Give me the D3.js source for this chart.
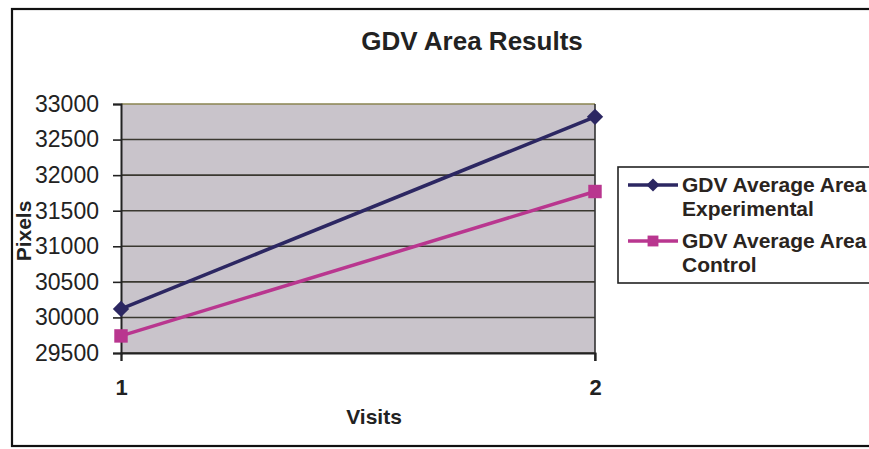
<!DOCTYPE html>
<html>
<head>
<meta charset="utf-8">
<script src="https://cdn.jsdelivr.net/npm/d3@7"></script>
<style>
  html, body { margin: 0; padding: 0; background: #fff; }
  svg { display: block; font-family: "Liberation Sans", Arial, sans-serif; }
</style>
</head>
<body>
<svg id="chart" width="869" height="449"></svg>
<script>
// Visit numbers on the x axis
const visits = [1, 2];
// Average GDV area (pixels) per visit
const experimental = [30120, 32820];
const control = [29740, 31770];
// Y axis tick values
const yTicks = [29500, 30000, 30500, 31000, 31500, 32000, 32500, 33000];
const seriesNames = ["GDV Average Area Experimental", "GDV Average Area Control"];
const legendLines = [["GDV Average Area", "Experimental"], ["GDV Average Area", "Control"]];

const svg = d3.select("#chart");
const W = 869, H = 449;
const plot = { left: 121, right: 595, top: 104, bottom: 353 };

// outer chart frame
svg.append("rect")
  .attr("x", 12).attr("y", 9).attr("width", W + 20).attr("height", 437)
  .attr("fill", "#fff").attr("stroke", "#111").attr("stroke-width", 2.2);

const x = d3.scaleLinear().domain([1, 2]).range([plot.left, plot.right]);
const y = d3.scaleLinear().domain([29500, 33000]).range([plot.bottom, plot.top]);

// plot background
svg.append("rect")
  .attr("x", plot.left).attr("y", plot.top)
  .attr("width", plot.right - plot.left).attr("height", plot.bottom - plot.top)
  .attr("fill", "#c9c4cb");

// horizontal gridlines
svg.append("g").selectAll("line").data(yTicks).join("line")
  .attr("x1", plot.left).attr("x2", plot.right)
  .attr("y1", d => y(d)).attr("y2", d => y(d))
  .attr("stroke", (d, i) => i === yTicks.length - 1 ? "#8a8450" : "#3a3830")
  .attr("stroke-width", 1.6);

// right plot border
svg.append("line")
  .attr("x1", plot.right).attr("x2", plot.right)
  .attr("y1", plot.top).attr("y2", plot.bottom + 8)
  .attr("stroke", "#333").attr("stroke-width", 1.6);

// y axis
const yAxis = d3.axisLeft(y).tickValues(yTicks).tickSize(8).tickPadding(14).tickFormat(d3.format("d"));
const gy = svg.append("g").attr("transform", `translate(${plot.left},0)`).call(yAxis);
gy.select(".domain").attr("stroke", "#222").attr("stroke-width", 2);
gy.selectAll(".tick line").attr("stroke", "#222").attr("stroke-width", 1.6);
gy.selectAll(".tick text")
  .attr("font-size", 23).attr("fill", "#222")
  .attr("font-family", "'Liberation Sans', Arial, sans-serif");

// x axis
const xAxis = d3.axisBottom(x).tickValues(visits).tickSize(8).tickPadding(18).tickFormat(d3.format("d"));
const gx = svg.append("g").attr("transform", `translate(0,${plot.bottom})`).call(xAxis);
gx.select(".domain").attr("stroke", "#222").attr("stroke-width", 2);
gx.selectAll(".tick line").attr("stroke", "#222").attr("stroke-width", 1.6);
gx.selectAll(".tick text")
  .attr("font-size", 22).attr("font-weight", "bold").attr("fill", "#222")
  .attr("font-family", "'Liberation Sans', Arial, sans-serif");

// series
const colors = ["#2c2762", "#b9368f"];
const series = [experimental, control];
const line = d3.line().x((d, i) => x(visits[i])).y(d => y(d));

series.forEach((vals, s) => {
  svg.append("path").datum(vals)
    .attr("d", line).attr("fill", "none")
    .attr("stroke", colors[s]).attr("stroke-width", 3.5);
});

const diamond = d3.symbol().type(d3.symbolDiamond2);
const square = d3.symbol().type(d3.symbolSquare2);
svg.append("g").selectAll("path").data(experimental).join("path")
  .attr("transform", (d, i) => `translate(${x(visits[i])},${y(d)})`)
  .attr("d", diamond.size(170)).attr("fill", colors[0]);
svg.append("g").selectAll("path").data(control).join("path")
  .attr("transform", (d, i) => `translate(${x(visits[i])},${y(d)})`)
  .attr("d", square.size(230)).attr("fill", colors[1]);

// title and axis titles
svg.append("text").attr("x", 472).attr("y", 50).attr("text-anchor", "middle")
  .attr("font-size", 26).attr("font-weight", "bold").attr("fill", "#222")
  .text("GDV Area Results");
svg.append("text").attr("x", 374).attr("y", 424).attr("text-anchor", "middle")
  .attr("font-size", 21).attr("font-weight", "bold").attr("fill", "#222")
  .text("Visits");
svg.append("text")
  .attr("transform", "translate(31,231) rotate(-90)").attr("text-anchor", "middle")
  .attr("font-size", 21).attr("font-weight", "bold").attr("fill", "#222")
  .text("Pixels");

// legend
const lg = svg.append("g");
lg.append("rect").attr("x", 618).attr("y", 167).attr("width", 270).attr("height", 116)
  .attr("fill", "#fff").attr("stroke", "#222").attr("stroke-width", 1.6);
const legendY = [185, 241];
legendY.forEach((ly, s) => {
  lg.append("line").attr("x1", 628).attr("x2", 678).attr("y1", ly).attr("y2", ly)
    .attr("stroke", colors[s]).attr("stroke-width", 3.5);
  lg.append("path").attr("transform", `translate(653,${ly})`)
    .attr("d", s === 0 ? diamond.size(110)() : square.size(150)()).attr("fill", colors[s]);
  const t = lg.append("text").attr("x", 682).attr("y", ly + 7)
    .attr("font-size", 21).attr("font-weight", "bold").attr("fill", "#2a2420");
  legendLines[s].forEach((txt, k) => {
    t.append("tspan").attr("x", 682).attr("dy", k === 0 ? 0 : 24).text(txt);
  });
  t.append("title").text(seriesNames[s]);
});
</script>
</body>
</html>
